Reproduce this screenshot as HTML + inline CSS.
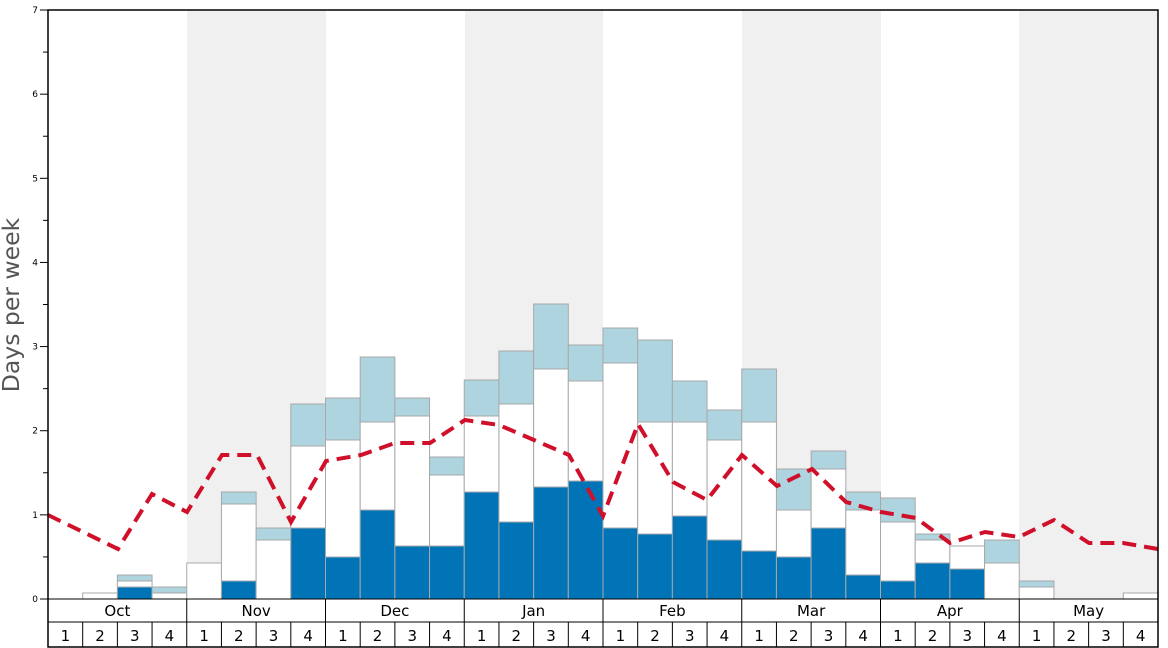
<!DOCTYPE html>
<html><head><style>body{margin:0;background:#fff}svg{display:block;font-family:"DejaVu Sans","Liberation Sans",sans-serif}</style></head>
<body>
<svg width="1168" height="648" viewBox="0 0 1168 648">
<rect width="1168" height="648" fill="#fff"/>
<g fill="#f0f0f0">
<rect x="187" y="10" width="139" height="589"/>
<rect x="465" y="10" width="138" height="589"/>
<rect x="742" y="10" width="139" height="589"/>
<rect x="1019" y="10" width="139" height="589"/>
</g>
<g id="bars" stroke="#a8a8a8" stroke-width="1"></g>
<polyline fill="none" stroke="#d0102a" stroke-width="4" stroke-dasharray="14,8" points="48,515 118,549 152,494 187,512 222,455 257,455 291,522 326,461 361,455 395,443 430,443 465,420 499,425 534,440 569,455 603,516 638,424 673,482 707,500 742,455 777,486 812,469 846,502 881,512 916,518 950,543 985,532 1019,537 1054,520 1089,543 1123,543 1158,549"/>
<rect x="48" y="10" width="1110" height="637" fill="none" stroke="#000" stroke-width="1.5"/>
<line x1="48" y1="599" x2="1158" y2="599" stroke="#000"/>
<line x1="48" y1="622" x2="1158" y2="622" stroke="#000"/>
<g id="axis" font-size="9" text-anchor="end"></g>
<g id="labs" font-size="15" text-anchor="middle"></g>
<text x="19" y="305" font-size="23.5" fill="#555" text-anchor="middle" transform="rotate(-90 19 305)">Days per week</text>
</svg>
<script>
var ns="http://www.w3.org/2000/svg",W=1110/32;
function el(p,t,a,txt){var e=document.createElementNS(ns,t);for(var k in a)e.setAttribute(k,a[k]);if(txt)e.textContent=txt;p.appendChild(e);}
var d=[[0,0,0],[0,593,0],[587,581,575],[0,593,587],[0,563,0],[581,504,492],[0,540,528],[528,446,404],
[557,440,398],[510,422,357],[546,416,398],[546,475,457],[492,416,380],[522,404,351],[487,369,304],[481,381,345],
[528,363,328],[534,422,340],[516,422,381],[540,440,410],[551,422,369],[557,510,469],[528,469,451],[575,510,492],
[581,522,498],[563,540,534],[569,546,0],[0,563,540],[0,587,581],[0,0,0],[0,0,0],[0,593,0]];
var b=document.getElementById("bars");
d.forEach(function(v,i){var x=48+W*i;
 var lb=v[2],wh=v[1],dk=v[0];
 if(lb){el(b,"rect",{x:x,y:lb,width:W,height:(wh||599)-lb,fill:"#aed4e0"});}
 if(wh){el(b,"rect",{x:x,y:wh,width:W,height:(dk||599)-wh,fill:"#fff"});}
 if(dk){el(b,"rect",{x:x,y:dk,width:W,height:599-dk,fill:"#0074b7"});}
});
var a=document.getElementById("axis");
for(var i=0;i<=14;i++){var y=599-i*84.14/2;
 el(a,"line",{x1:i%2?43:40,x2:48,y1:y,y2:y,stroke:"#000"});
 if(i%2==0)el(a,"text",{x:38,y:y+3},""+(i/2));}
var l=document.getElementById("labs"),m=["Oct","Nov","Dec","Jan","Feb","Mar","Apr","May"];
for(var i=0;i<8;i++){var x=48+W*4*i;
 el(l,"line",{x1:x,x2:x,y1:599,y2:647,stroke:"#000"});
 el(l,"text",{x:x+W*2,y:616},m[i]);
 for(var j=0;j<4;j++){var xx=x+W*j;
  if(j)el(l,"line",{x1:xx,x2:xx,y1:622,y2:647,stroke:"#000"});
  el(l,"text",{x:xx+W/2,y:641},""+(j+1));}}
</script>
</body></html>
